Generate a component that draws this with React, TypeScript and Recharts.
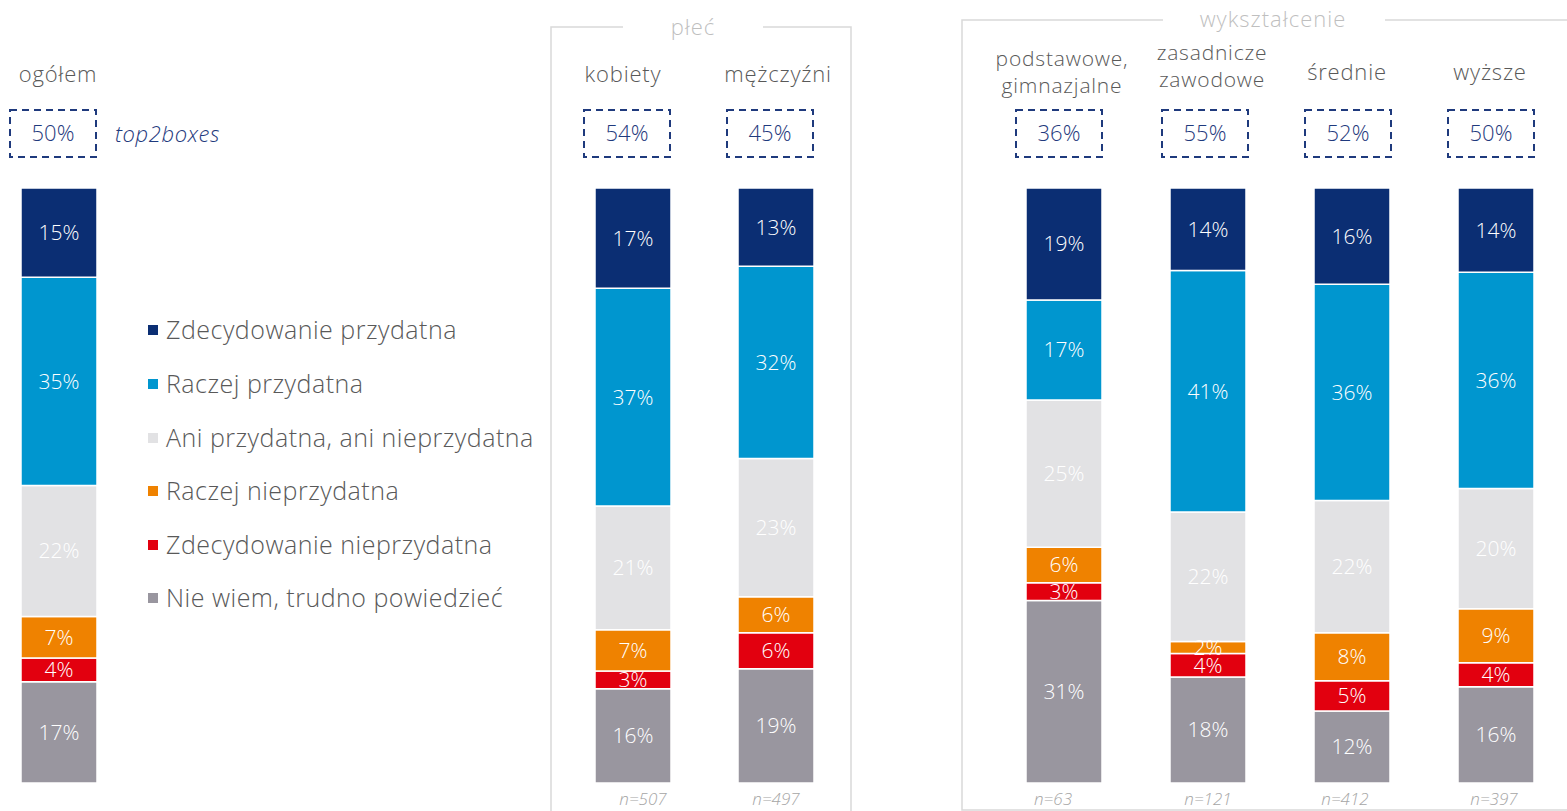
import { BarChart, Bar, XAxis, YAxis, LabelList } from "recharts";

const seriesNames = [
  "Zdecydowanie przydatna",
  "Raczej przydatna",
  "Ani przydatna, ani nieprzydatna",
  "Raczej nieprzydatna",
  "Zdecydowanie nieprzydatna",
  "Nie wiem, trudno powiedzieć",
];
const seriesKeys = ["s1", "s2", "s3", "s4", "s5", "s6"];
const seriesColors = ["#0b2e73", "#0096cf", "#e2e2e4", "#ef8200", "#e2000f", "#99969f"];

// order: top of the bar first
const ogolem = [15, 35, 22, 7, 4, 17];
const kobiety = [17, 37, 21, 7, 3, 16];
const mezczyzni = [13, 32, 23, 6, 6, 19];
const podstawowe = [19, 17, 25, 6, 3, 31];
const zasadnicze = [14, 41, 22, 2, 4, 18];
const srednie = [16, 36, 22, 8, 5, 12];
const wyzsze = [14, 36, 20, 9, 4, 16];

const top2 = { ogolem: 50, kobiety: 54, mezczyzni: 45, podstawowe: 36, zasadnicze: 55, srednie: 52, wyzsze: 50 };
const sampleSizes = { kobiety: 507, mezczyzni: 497, podstawowe: 63, zasadnicze: 121, srednie: 412, wyzsze: 397 };

const FONT = "'Open Sans', sans-serif";
const TEXT_GREY = "#595959";
const NAVY = "#1f3a7d";

const row = (name: string, values: number[]) => {
  const r: Record<string, string | number> = { name };
  seriesKeys.forEach((k, i) => (r[k] = values[i]));
  return r;
};

const StackedBars = ({ data, width, left }: { data: Record<string, string | number>[]; width: number; left: number }) => (
  <div style={{ position: "absolute", left, top: 188 }}>
    <BarChart
      width={width}
      height={595}
      data={data}
      stackOffset="expand"
      barCategoryGap={0}
      margin={{ top: 0, right: 0, bottom: 0, left: 0 }}
    >
      <XAxis dataKey="name" hide />
      <YAxis hide />
      {/* stack from the bottom, so draw the last series first */}
      {seriesKeys
        .slice()
        .reverse()
        .map((k) => {
          const i = seriesKeys.indexOf(k);
          return (
            <Bar
              key={k}
              dataKey={k}
              stackId="a"
              barSize={76}
              fill={seriesColors[i]}
              stroke="#ffffff"
              strokeWidth={1.5}
              isAnimationActive={false}
            >
              <LabelList
                dataKey={k}
                position="center"
                formatter={(v: any) => `${v}%`}
                style={{ fill: "#ffffff", fontSize: 21, fontFamily: FONT, fontWeight: 300 }}
              />
            </Bar>
          );
        })}
    </BarChart>
  </div>
);

const Box = ({ cx, value }: { cx: number; value: number }) => (
  <g>
    <rect x={cx - 48} y={110} width={86} height={47} fill="none" stroke={NAVY} strokeWidth={2} strokeDasharray="7 5" />
    <text x={cx - 5} y={141} textAnchor="middle" fontSize={22} fill={NAVY} fontFamily={FONT} fontWeight={300}>
      {value}%
    </text>
  </g>
);

const Head = ({ cx, lines, y }: { cx: number; lines: string[]; y: number }) => (
  <g>
    {lines.map((l, i) => (
      <text
        key={i}
        x={cx}
        y={y + i * 27}
        textAnchor="middle"
        fontSize={lines.length > 1 ? 21 : 22}
        letterSpacing={0.8}
        fill={TEXT_GREY}
        fontFamily={FONT}
        fontWeight={300}
      >
        {l}
      </text>
    ))}
  </g>
);

const NLabel = ({ cx, n }: { cx: number; n: number }) => (
  <text x={cx} y={805} textAnchor="middle" fontSize={17} fill="#a6a6a6" fontStyle="italic" fontFamily={FONT} fontWeight={300}>
    n={n}
  </text>
);

const legendY = [330, 384, 438, 491, 545, 598];

export default function App() {
  return (
    <div style={{ position: "absolute", left: 0, top: 0, width: 1567, height: 811, background: "#ffffff", overflow: "hidden" }}>
      <StackedBars data={[row("ogółem", ogolem)]} width={117} left={0} />
      <StackedBars data={[row("kobiety", kobiety), row("mężczyźni", mezczyzni)]} width={286} left={561} />
      <StackedBars
        data={[
          row("podstawowe, gimnazjalne", podstawowe),
          row("zasadnicze zawodowe", zasadnicze),
          row("średnie", srednie),
          row("wyższe", wyzsze),
        ]}
        width={576}
        left={992}
      />
      <svg width={1567} height={811} style={{ position: "absolute", left: 0, top: 0, pointerEvents: "none" }}>
        {/* group frames */}
        <polyline points="623,27 551,27 551,811" fill="none" stroke="#d9d9d9" strokeWidth={1.5} />
        <polyline points="763,27 851,27 851,811" fill="none" stroke="#d9d9d9" strokeWidth={1.5} />
        <text x={693} y={35} textAnchor="middle" fontSize={22} letterSpacing={1} fill="#bfbfbf" fontFamily={FONT} fontWeight={300}>
          płeć
        </text>
        <polyline points="1163,20 962,20 962,810 1567,810" fill="none" stroke="#d9d9d9" strokeWidth={1.5} />
        <polyline points="1385,20 1567,20" fill="none" stroke="#d9d9d9" strokeWidth={1.5} />
        <text x={1273} y={27} textAnchor="middle" fontSize={22} letterSpacing={1} fill="#bfbfbf" fontFamily={FONT} fontWeight={300}>
          wykształcenie
        </text>

        <Head cx={58} lines={["ogółem"]} y={82} />
        <Head cx={623} lines={["kobiety"]} y={82} />
        <Head cx={778} lines={["mężczyźni"]} y={82} />
        <Head cx={1062} lines={["podstawowe,", "gimnazjalne"]} y={66} />
        <Head cx={1212} lines={["zasadnicze", "zawodowe"]} y={60} />
        <Head cx={1347} lines={["średnie"]} y={80} />
        <Head cx={1490} lines={["wyższe"]} y={80} />

        <Box cx={58} value={top2.ogolem} />
        <Box cx={632} value={top2.kobiety} />
        <Box cx={775} value={top2.mezczyzni} />
        <Box cx={1064} value={top2.podstawowe} />
        <Box cx={1210} value={top2.zasadnicze} />
        <Box cx={1353} value={top2.srednie} />
        <Box cx={1496} value={top2.wyzsze} />
        <text x={115} y={142} fontSize={22} letterSpacing={0.6} fill={NAVY} fontStyle="italic" fontFamily={FONT} fontWeight={300}>
          top2boxes
        </text>

        <NLabel cx={643} n={sampleSizes.kobiety} />
        <NLabel cx={776} n={sampleSizes.mezczyzni} />
        <NLabel cx={1053} n={sampleSizes.podstawowe} />
        <NLabel cx={1208} n={sampleSizes.zasadnicze} />
        <NLabel cx={1345} n={sampleSizes.srednie} />
        <NLabel cx={1494} n={sampleSizes.wyzsze} />

        {seriesNames.map((s, i) => (
          <g key={s}>
            <rect x={148} y={legendY[i] - 5} width={10} height={10} fill={seriesColors[i]} />
            <text x={166} y={legendY[i] + 9} fontSize={25} letterSpacing={0.5} fill={TEXT_GREY} fontFamily={FONT} fontWeight={300}>
              {s}
            </text>
          </g>
        ))}
      </svg>
    </div>
  );
}
